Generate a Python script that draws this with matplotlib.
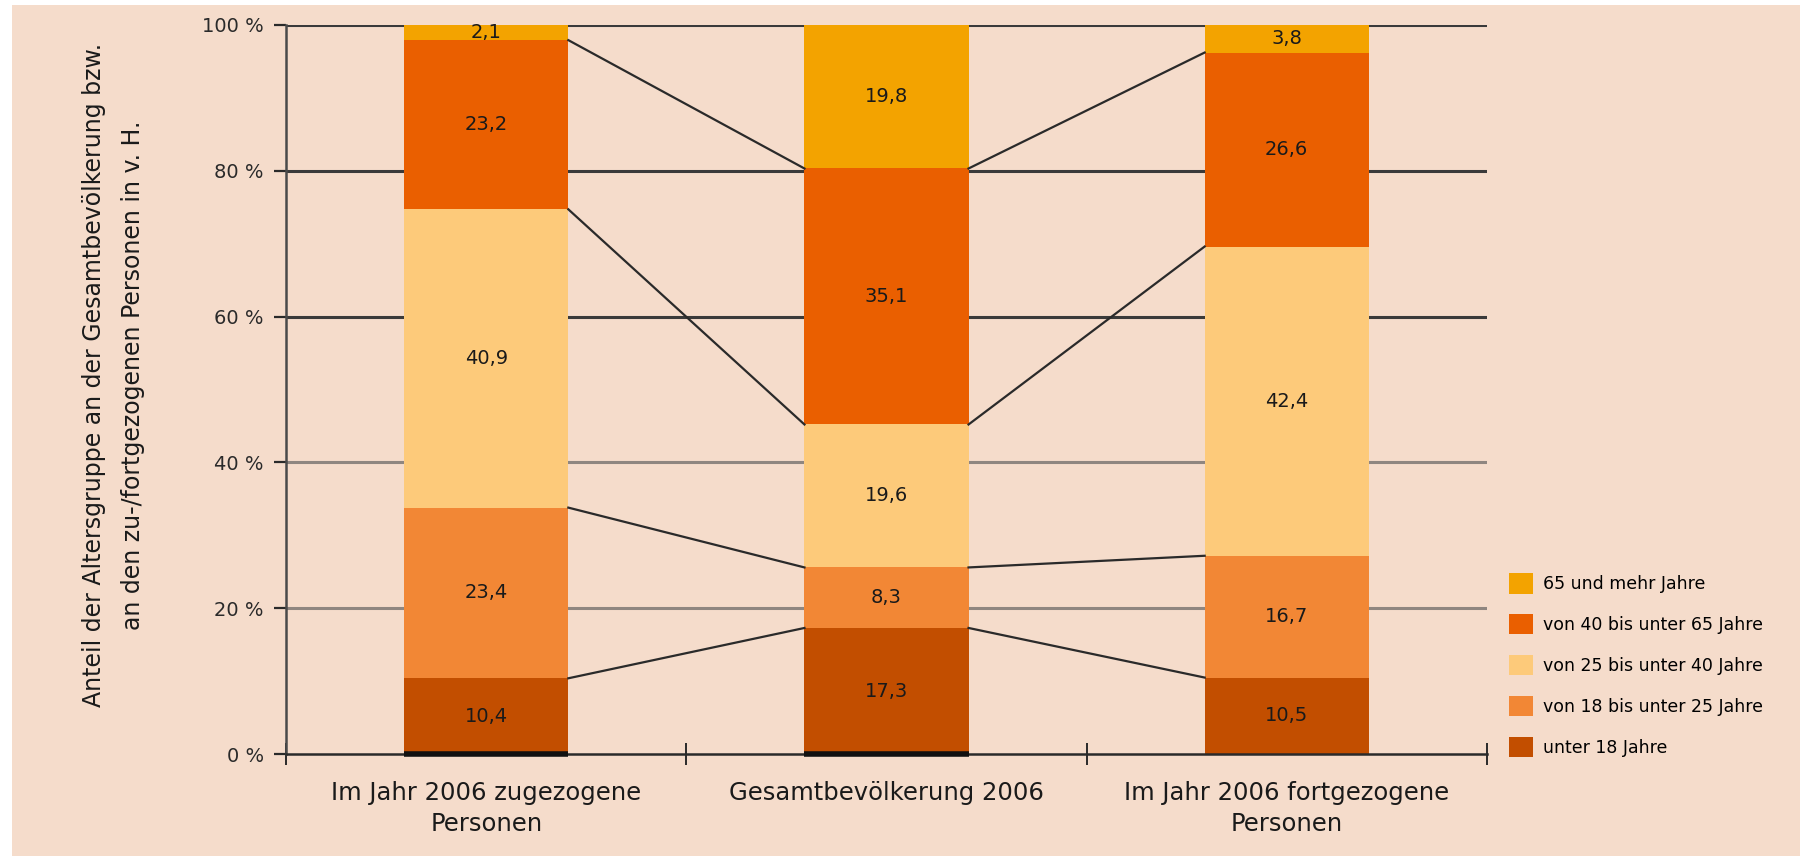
import matplotlib.pyplot as plt
import numpy as np

categories = ["Im Jahr 2006 zugezogene\nPersonen", "Gesamtbevölkerung 2006",
              "Im Jahr 2006 fortgezogene\nPersonen"]
groups = ["unter 18 Jahre", "von 18 bis unter 25 Jahre", "von 25 bis unter 40 Jahre",
          "von 40 bis unter 65 Jahre", "65 und mehr Jahre"]
unter_18 = [10.4, 17.3, 10.5]
von_18_25 = [23.4, 8.3, 16.7]
von_25_40 = [40.9, 19.6, 42.4]
von_40_65 = [23.2, 35.1, 26.6]
ab_65 = [2.1, 19.8, 3.8]
yticks = [0, 20, 40, 60, 80, 100]

colors = ["#c24e00", "#f28735", "#fdca7a", "#ea5f00", "#f3a300"]
bg = "#f5dccb"

series = [unter_18, von_18_25, von_25_40, von_40_65, ab_65]
x = np.arange(len(categories))
width = 0.41

fig = plt.figure(figsize=(18, 8.56), dpi=100)
fig.patch.set_facecolor("white")
fig.patches.append(plt.Rectangle((12 / 1800, 0), 1, 1 - 5 / 856, transform=fig.transFigure,
                                 facecolor=bg, edgecolor="none", zorder=-10))
ax = fig.add_axes([0.159, 0.119, 0.667, 0.852])
ax.patch.set_alpha(0)

# gridlines, darker in the upper part as in the source
for t in yticks[1:]:
    ax.axhline(t, color="#3a3a3a" if t >= 60 else "#8f8680", lw=2.2, zorder=1)

bottom = np.zeros(len(categories))
tops = []
for vals, col, name in zip(series, colors, groups):
    vals = np.array(vals)
    ax.bar(x, vals, width, bottom=bottom, color=col, label=name, zorder=2)
    for xi, b, v in zip(x, bottom, vals):
        ax.text(xi, b + v / 2, f"{v:.1f}".replace(".", ","), ha="center", va="center",
                fontsize=14, color="#1a1a1a", zorder=4)
    bottom = bottom + vals
    tops.append(bottom.copy())

# connecting lines between the segment boundaries of neighbouring bars
for cum in tops[:-1]:
    for i in range(len(categories) - 1):
        ax.plot([x[i] + width / 2, x[i + 1] - width / 2], [cum[i], cum[i + 1]],
                color="#2a2a2a", lw=1.6, zorder=3)

# dark base under the first two bars
for xi in x[:2]:
    ax.plot([xi - width / 2, xi + width / 2], [0, 0], color="#111111", lw=4,
            solid_capstyle="butt", zorder=5, clip_on=False)

ax.set_xlim(-0.5, 2.5)
ax.set_ylim(0, 100)
ax.set_yticks(yticks)
ax.set_yticklabels([f"{t} %" for t in yticks], fontsize=14, color="#2a2a2a")
ax.tick_params(axis="y", direction="out", length=9, width=1.6, color="#2a2a2a", pad=7)
ax.set_xticks(x)
ax.set_xticklabels(categories, fontsize=17.5, color="#1a1a1a", linespacing=1.4)
ax.set_xticks([-0.5, 0.5, 1.5, 2.5], minor=True)
ax.tick_params(axis="x", which="major", length=0, pad=19)
ax.tick_params(axis="x", which="minor", direction="inout", length=16, width=1.4,
               color="#2a2a2a")

for s in ["top", "right"]:
    ax.spines[s].set_visible(False)
ax.spines["left"].set_color("#4a4a4a")
ax.spines["left"].set_linewidth(1.8)
ax.spines["bottom"].set_color("#2a2a2a")
ax.spines["bottom"].set_linewidth(1.8)

ax.set_ylabel("Anteil der Altersgruppe an der Gesamtbevölkerung bzw.\n"
              "an den zu-/fortgezogenen Personen in v. H.",
              fontsize=17, color="#1a1a1a", linespacing=1.75)
ax.yaxis.set_label_coords(-0.118, 0.52)

handles, labels = ax.get_legend_handles_labels()
leg = fig.legend(handles[::-1], labels[::-1], loc="lower left",
                 bbox_to_anchor=(1502 / 1800, 92 / 856), frameon=False,
                 fontsize=12.5, handlelength=1.4, handleheight=1.4,
                 handletextpad=0.55, labelspacing=1.2, borderaxespad=0)

fig.savefig("out.png", dpi=100, facecolor=fig.get_facecolor())
